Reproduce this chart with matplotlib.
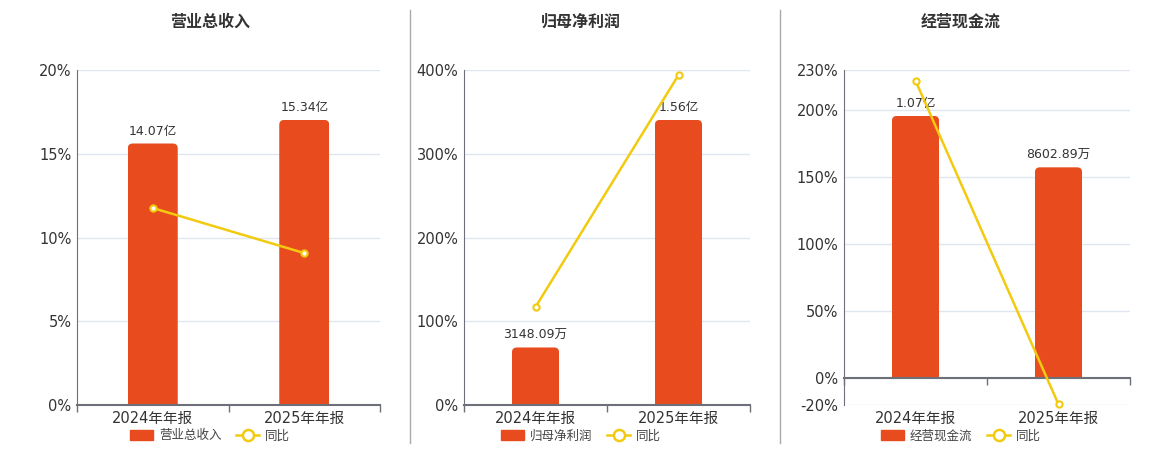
import numpy as np
import matplotlib
matplotlib.use('Agg')
from matplotlib import pyplot as plt
from matplotlib.patches import Patch, FancyBboxPatch
from matplotlib.lines import Line2D

plt.rcParams['font.family'] = ['DejaVu Sans', 'Noto Sans CJK SC']
plt.rcParams['axes.unicode_minus'] = False

# 数据
categories = ['2024年年报', '2025年年报']
titles = ['营业总收入', '归母净利润', '经营现金流']

# 柱子数值（单位：万）
revenue = [140700, 153400]
profit = [3148.09, 15600]
cashflow = [10700, 8602.89]
revenue_labels = ['14.07亿', '15.34亿']
profit_labels = ['3148.09万', '1.56亿']
cashflow_labels = ['1.07亿', '8602.89万']

# 同比（%）
revenue_yoy = [11.76, 9.07]
profit_yoy = [117, 394]
cashflow_yoy = [222, -19.5]

revenue_ticks = [0, 5, 10, 15, 20]
profit_ticks = [0, 100, 200, 300, 400]
cashflow_ticks = [-20, 0, 50, 100, 150, 200, 230]

BAR = '#E84C1E'
LINE = '#F2CA10'
AXIS = '#6E7079'
GRID = '#E0E6F1'
TXT = '#333333'

panels = [
    (titles[0], revenue, revenue_labels, revenue_yoy, revenue_ticks),
    (titles[1], profit, profit_labels, profit_yoy, profit_ticks),
    (titles[2], cashflow, cashflow_labels, cashflow_yoy, cashflow_ticks),
]

W, H = 1160, 450
fig = plt.figure(figsize=(W / 100, H / 100), dpi=100)

# 每个面板的坐标区域（像素）与中心
boxes = [(77, 303), (464, 286), (844, 286)]
centers = [210, 581, 961]
top_px, bot_px = 70, 405
radius_px = 5

for (title, vals, labels, yoy, ticks), (x0, w), cx in zip(panels, boxes, centers):
    rect = [x0 / W, 1 - bot_px / H, w / W, (bot_px - top_px) / H]
    ax = fig.add_axes(rect)
    axb = ax.twinx()
    ax.set_zorder(axb.get_zorder() + 1)
    ax.patch.set_visible(False)

    ymin, ymax = ticks[0], ticks[-1]
    x = np.arange(len(categories))
    xlim = (-0.5, len(categories) - 0.5)

    # 柱子使用隐藏的副坐标轴
    btop = max(vals) * 1.175
    bbot = btop * ymin / ymax
    axb.set_ylim(bbot, btop)
    axb.set_xlim(*xlim)
    bars = axb.bar(x, vals, width=0.33, color=BAR, zorder=3)
    axb.bar_label(bars, labels=labels, padding=4, fontsize=9, color=TXT)

    # 圆角顶部（底部用柱子本身裁掉）
    xu = (xlim[1] - xlim[0]) / w
    yu = (btop - bbot) / (bot_px - top_px)
    for b in bars:
        bx, by, bw, bh = b.get_x(), b.get_y(), b.get_width(), b.get_height()
        ry = 2 * radius_px * yu
        p = FancyBboxPatch((bx, by - ry), bw, bh + ry,
                           boxstyle=f'round,pad=0,rounding_size={radius_px * xu}',
                           mutation_aspect=yu / xu, facecolor=BAR,
                           edgecolor='none', zorder=3)
        axb.add_patch(p)
        p.set_clip_path(b)
        b.set_visible(False)

    axb.set_yticks(np.array(ticks) * btop / ymax)
    axb.yaxis.grid(True, color=GRID, linewidth=1)
    axb.set_axisbelow(True)
    axb.tick_params(axis='y', length=0, labelright=False)
    for s in axb.spines.values():
        s.set_visible(False)

    # 同比折线
    ax.plot(x, yoy, color=LINE, linewidth=1.8, marker='o', markersize=4.5,
            markerfacecolor='white', markeredgecolor=LINE, markeredgewidth=1.5,
            clip_on=False, zorder=5)
    ax.set_ylim(ymin, ymax)
    ax.set_yticks(ticks)
    ax.set_yticklabels([f'{t}%' for t in ticks])
    ax.tick_params(axis='y', length=0, labelsize=10.5, colors=TXT, pad=4)
    ax.set_xlim(*xlim)

    for s in ['top', 'right']:
        ax.spines[s].set_visible(False)
    ax.spines['left'].set_color(AXIS)
    ax.spines['bottom'].set_color(AXIS)
    ax.spines['bottom'].set_linewidth(1.5)
    ax.spines['bottom'].set_position(('data', 0))

    # 类别标签推到最底部
    h_pt = (bot_px - top_px) * 0.72
    extra = (0 - ymin) / (ymax - ymin) * h_pt
    ax.set_xticks(x)
    ax.set_xticklabels(categories)
    ax.set_xticks(np.arange(-0.5, len(categories)), minor=True)
    ax.tick_params(axis='x', which='major', length=0, labelsize=10.5, colors=TXT,
                   pad=4 + extra)
    ax.tick_params(axis='x', which='minor', length=5, color=AXIS, width=1)

    fig.text(cx / W, 1 - 22 / H, title, ha='center', va='center',
             fontsize=11.5, fontweight='bold', color=TXT)

    handles = [Patch(facecolor=BAR, edgecolor=BAR),
               Line2D([0], [0], color=LINE, linewidth=1.8, marker='o', markersize=8,
                      markerfacecolor='white', markeredgecolor=LINE, markeredgewidth=1.8)]
    fig.legend(handles, [title, '同比'], loc='center', ncol=2, frameon=False,
               bbox_to_anchor=(cx / W, 1 - 436 / H), fontsize=9,
               labelcolor='#444444', handlelength=1.8, handleheight=0.9,
               columnspacing=1.2, handletextpad=0.5)

# 分隔线
for xs in [410, 780]:
    fig.add_artist(Line2D([xs / W, xs / W], [1 - 443 / H, 1 - 10 / H],
                          color='#AAAAAA', linewidth=1))

fig.savefig('out.png', dpi=100)
